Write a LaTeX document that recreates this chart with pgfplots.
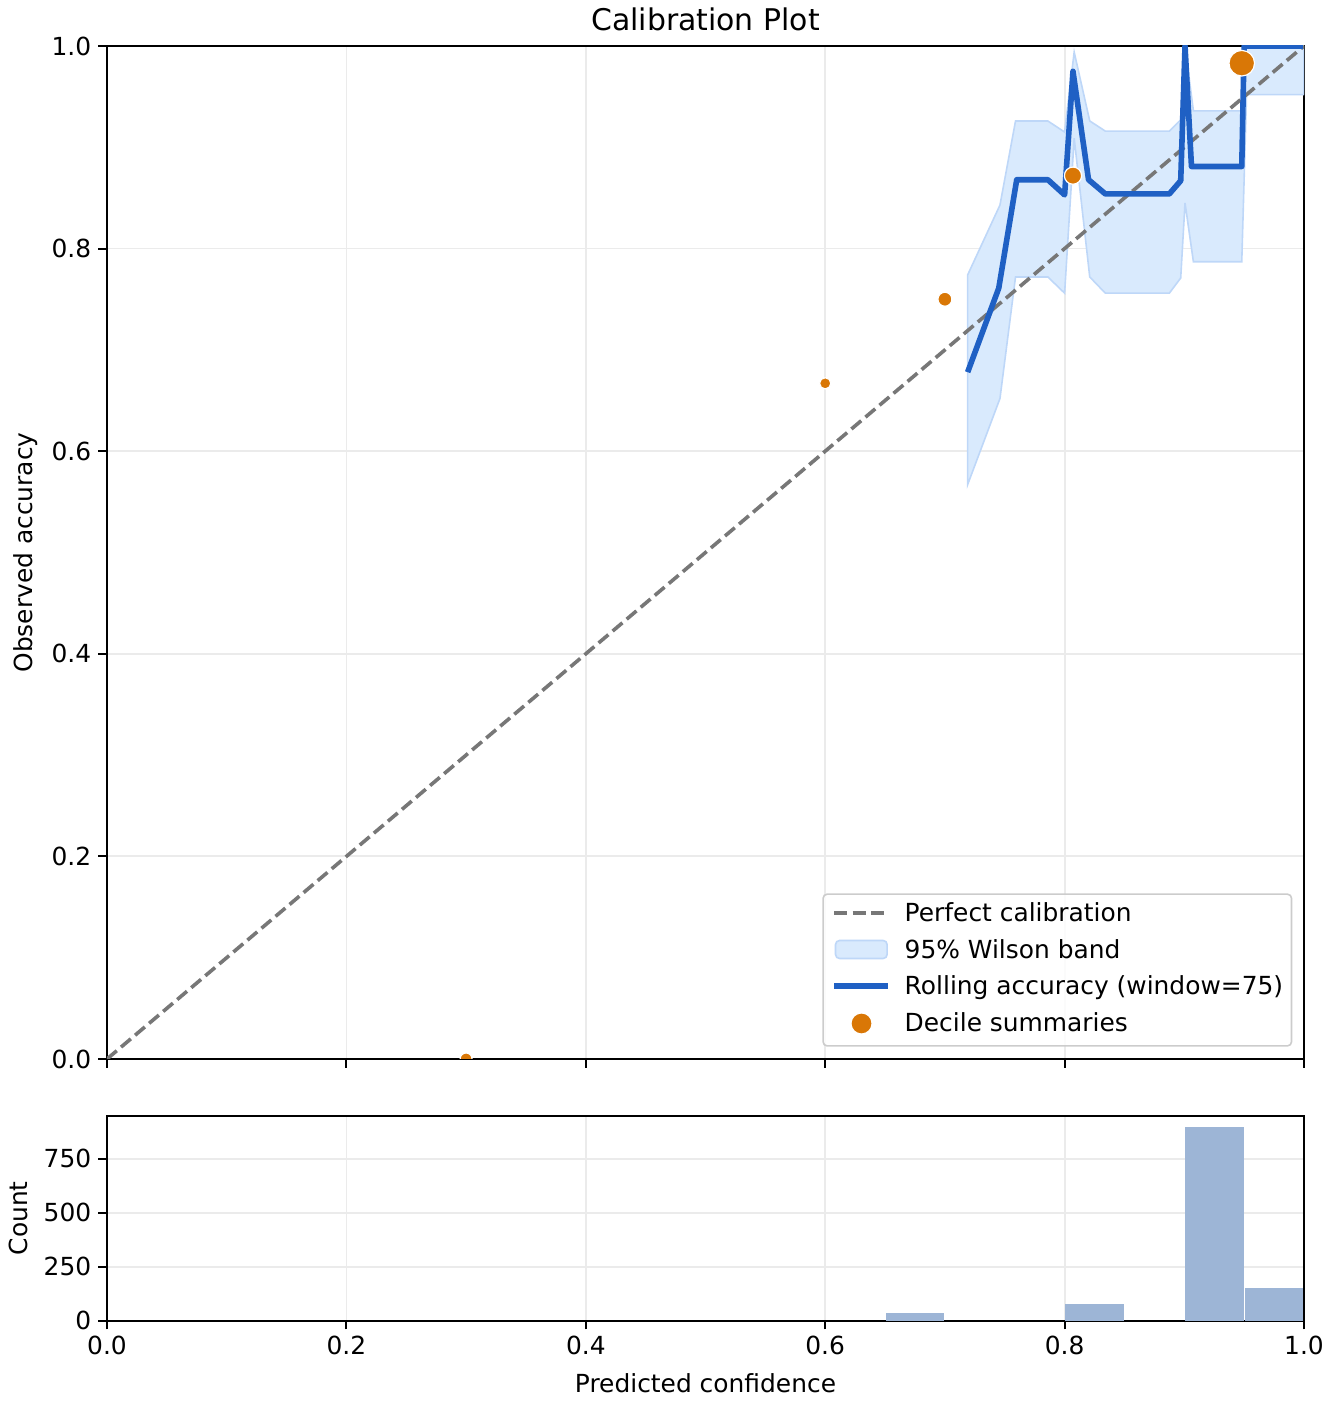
\documentclass[border=0pt]{standalone}
\usepackage{fontspec}
\setmainfont{DejaVu Sans}
\usepackage{pgfplots}
\pgfplotsset{compat=1.18}
\definecolor{rollc}{RGB}{31,96,196}
\definecolor{decc}{RGB}{217,119,6}
\definecolor{bandf}{RGB}{217,234,253}
\definecolor{bande}{RGB}{190,215,248}
\definecolor{histc}{RGB}{157,181,214}
\definecolor{gridc}{RGB}{235,235,235}
\definecolor{diagc}{RGB}{119,119,119}
\definecolor{legc}{RGB}{204,204,204}
\newcommand{\fs}{\fontsize{12.45}{15}\selectfont}
\begin{document}
\begin{tikzpicture}
\path[use as bounding box] (0,0) rectangle (666pt,702pt);
\pgfplotsset{
  every axis/.append style={
    scale only axis,
    /pgf/number format/assume math mode=true,
    tick label style={font=\fs},
    label style={font=\fs},
    tick align=outside,
    tick pos=left,
    major tick length=4.35pt,
    tick style={black, line width=1pt},
    axis line style={line width=1pt},
    grid=major,
    major grid style={gridc, line width=0.9pt},
    xmin=0, xmax=1,
    xtick={0,0.2,0.4,0.6,0.8,1},
  }
}
% ---------------- main axis
\begin{axis}[
  name=main,
  at={(53.5pt,172.5pt)}, anchor=south west,
  width=598.5pt, height=506.5pt,
  ymin=0, ymax=1,
  ytick={0,0.2,0.4,0.6,0.8,1},
  xticklabels={},
  yticklabel style={/pgf/number format/.cd, fixed, fixed zerofill, precision=1},
  clip marker paths=true,
  ylabel={Observed accuracy},
  ylabel style={at={(axis description cs:-0.0677,0.5)}, anchor=center},
  legend style={at={(axis cs:1,0)}, anchor=south east, xshift=-5.85pt, yshift=6.15pt,
    draw=legc, line width=0.8pt, rounded corners=2pt,
    fill=white, fill opacity=0.8, text opacity=1,
    inner xsep=4.2pt, inner ysep=4.3pt, row sep=5.75pt,
    font=\fs,
    nodes={inner xsep=0pt, inner ysep=0pt, text height=9.6pt, text depth=2.9pt},
    cells={anchor=base west},
  },
]
% band
\addplot[fill=bandf, draw=bande, line width=0.8pt, forget plot] coordinates {
 (0.719,0.774) (0.746,0.843) (0.759,0.926) (0.786,0.926) (0.800,0.915) (0.808,0.994)
 (0.821,0.926) (0.834,0.916) (0.8875,0.916) (0.897,0.927) (0.9006,1.0) (0.9076,0.936)
 (0.948,0.936) (0.951,1.0) (1.0,1.0)
 (1.0,0.952) (0.952,0.952) (0.948,0.787) (0.9076,0.787) (0.9006,0.845) (0.897,0.771)
 (0.8875,0.756) (0.834,0.756) (0.821,0.772) (0.808,0.909) (0.800,0.756) (0.786,0.772)
 (0.759,0.772) (0.746,0.652) (0.719,0.567)
} -- cycle;
% diagonal
\addplot[diagc, line width=1.8pt, dash pattern=on 6.4pt off 2.8pt, forget plot] coordinates {(0,0) (1,1)};
% rolling accuracy
\addplot[rollc, line width=2.8pt, line join=round, forget plot] coordinates {
 (0.719,0.678) (0.745,0.761) (0.760,0.868) (0.786,0.868) (0.800,0.853) (0.807,0.975)
 (0.820,0.868) (0.834,0.854) (0.8875,0.854) (0.897,0.867) (0.9006,1.0) (0.906,0.881)
 (0.948,0.881) (0.950,1.0) (0.999,1.0)
};
% decile summaries
\addplot[only marks, mark=*, mark size=3pt, mark options={fill=decc, draw=white, line width=0.6pt}, forget plot] coordinates {(0.300,0.000)};
\addplot[only marks, mark=*, mark size=2.8pt, mark options={fill=decc, draw=white, line width=0.6pt}, forget plot] coordinates {(0.600,0.667)};
\addplot[only marks, mark=*, mark size=3.5pt, mark options={fill=decc, draw=white, line width=0.6pt}, forget plot] coordinates {(0.700,0.750)};
\addplot[only marks, mark=*, mark size=4.3pt, mark options={fill=decc, draw=white, line width=0.6pt}, forget plot] coordinates {(0.807,0.872)};
\addplot[only marks, mark=*, mark size=6.4pt, mark options={fill=decc, draw=white, line width=0.6pt}, forget plot] coordinates {(0.948,0.983)};
% legend
\addlegendimage{legend image code/.code={
  \draw[diagc, line width=1.8pt, dash pattern=on 6.4pt off 2.8pt] (0pt,4.5pt) -- (27pt,4.5pt);
  \path[draw=none, fill=none] (0pt,4.5pt) -- (35.2pt,4.5pt);}}
\addlegendentry{Perfect calibration}
\addlegendimage{legend image code/.code={
  \draw[fill=bandf, fill opacity=1, draw=bande, line width=0.8pt] (0.6pt,0pt) rectangle (26.4pt,9pt);
  \path[draw=none, fill=none] (0pt,4.5pt) -- (35.2pt,4.5pt);}}
\addlegendentry{95\% Wilson band}
\addlegendimage{legend image code/.code={
  \draw[rollc, line width=2.8pt] (0pt,4.5pt) -- (27pt,4.5pt);
  \path[draw=none, fill=none] (0pt,4.5pt) -- (35.2pt,4.5pt);}}
\addlegendentry{Rolling accuracy (window=75)}
\addlegendimage{legend image code/.code={
  \fill[decc, fill opacity=1, draw=none] (13.6pt,4pt) circle (4.9pt);
  \path[draw=none, fill=none] (0pt,4.5pt) -- (35.2pt,4.5pt);}}
\addlegendentry{Decile summaries}
\end{axis}
\node[font=\fontsize{14.94}{18}\selectfont, anchor=base, yshift=7.5pt] at (main.north) {Calibration Plot};
% ---------------- histogram axis
\begin{axis}[
  at={(53.5pt,41.65pt)}, anchor=south west,
  width=598.5pt, height=102.35pt,
  ymin=0, ymax=947.7,
  ytick={0,250,500,750},
  xticklabel style={/pgf/number format/.cd, fixed, fixed zerofill, precision=1},
  xlabel={Predicted confidence},
  xlabel style={at={(axis description cs:0.5,0)}, anchor=base, yshift=-35.65pt},
  ylabel={Count},
  ylabel style={at={(axis description cs:-0.0744,0.5)}, anchor=center},
]
\addplot[fill=histc, draw=none] coordinates {(0.6505,0) (0.6505,37) (0.6995,37) (0.6995,0)} -- cycle;
\addplot[fill=histc, draw=none] coordinates {(0.8005,0) (0.8005,79) (0.8495,79) (0.8495,0)} -- cycle;
\addplot[fill=histc, draw=none] coordinates {(0.9005,0) (0.9005,896) (0.9495,896) (0.9495,0)} -- cycle;
\addplot[fill=histc, draw=none] coordinates {(0.9505,0) (0.9505,151) (0.9995,151) (0.9995,0)} -- cycle;
\end{axis}
\end{tikzpicture}
\end{document}
